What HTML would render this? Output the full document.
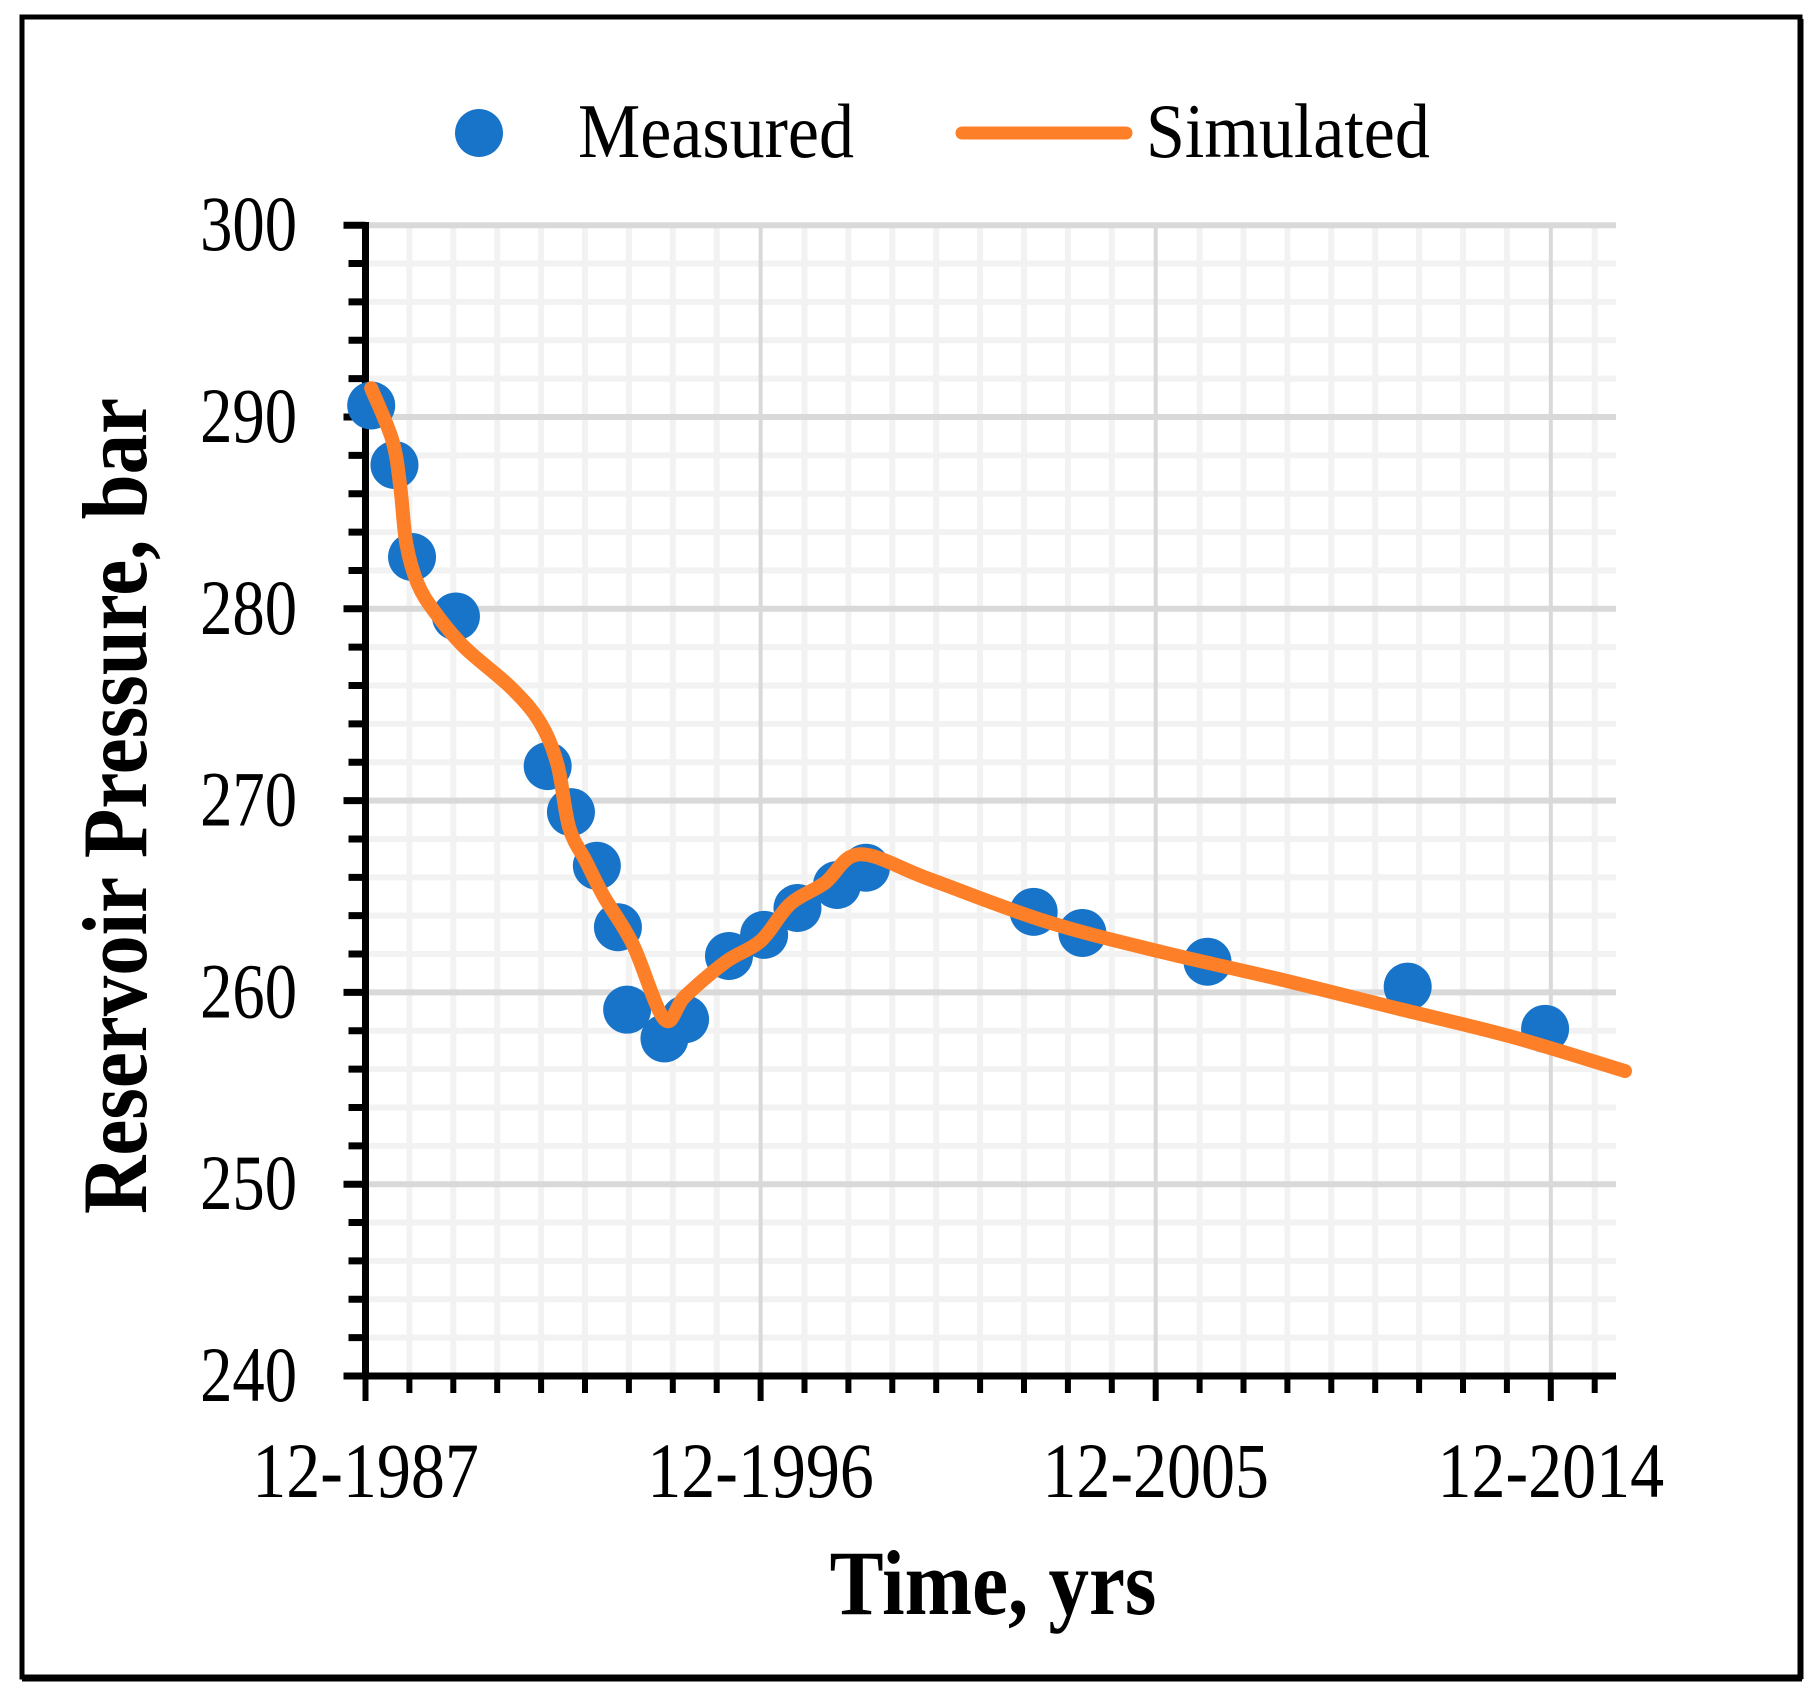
<!DOCTYPE html>
<html><head><meta charset="utf-8"><style>
body{margin:0;background:#fff;}
svg{display:block;font-family:"Liberation Serif",serif;}
</style></head><body>
<svg id="chart" width="1818" height="1695" viewBox="0 0 1818 1695">
<rect x="22" y="17" width="1778" height="1660" fill="#fff" stroke="#000" stroke-width="5"/>
<line x1="22" y1="1679" x2="1802" y2="1679" stroke="#000" stroke-width="5"/>
<line x1="1802" y1="19" x2="1802" y2="1679" stroke="#000" stroke-width="3"/>
<g id="grid"></g>
<g id="axes"></g>
<g id="series"></g>
<g>
  <circle cx="479" cy="133" r="24" fill="#1874c8"/>
  <text transform="translate(578,157) scale(1.0,1.1)" font-size="70">Measured</text>
  <line x1="962" y1="133" x2="1126" y2="133" stroke="#fd7f28" stroke-width="13" stroke-linecap="round"/>
  <text transform="translate(1146,157) scale(1.0,1.1)" font-size="70">Simulated</text>
</g>
<text transform="translate(993,1614) scale(0.92,1.05)" font-size="88" font-weight="bold" text-anchor="middle">Time, yrs</text>
<text transform="translate(146,806) rotate(-90) scale(0.92,1.05)" font-size="88" font-weight="bold" text-anchor="middle">Reservoir Pressure, bar</text>
</svg>
<script>
const yTicks=[240,250,260,270,280,290,300];
const xTickYears=[1987.92,1996.92,2005.92,2014.92];
const xTickLabels=["12-1987","12-1996","12-2005","12-2014"];
const measuredYears=[1988.05,1988.58,1988.98,1989.98,1992.07,1992.6,1993.19,1993.67,1993.88,1994.73,1995.2,1996.2,1997.0,1997.76,1998.66,1999.32,2003.14,2004.25,2007.1,2011.66,2014.79];
const measuredPressure=[290.6,287.5,282.7,279.6,271.8,269.4,266.6,263.4,259.1,257.6,258.6,261.9,263.0,264.4,265.6,266.5,264.2,263.1,261.6,260.3,258.1];
const simYears=[1988.05,1988.53,1988.71,1988.85,1989.11,1989.51,1990.17,1991.23,1991.89,1992.29,1992.56,1992.95,1993.35,1994.01,1994.73,1995.2,1996.13,1996.93,1997.59,1998.38,1999.18,2000.77,2003.42,2006.07,2008.72,2011.36,2014.01,2016.61];
const simPressure=[291.5,288.8,286.4,283.4,281.3,279.8,278.0,275.9,274.1,271.9,268.6,266.8,265.0,262.5,258.6,259.8,261.6,262.7,264.6,265.7,267.2,265.9,263.7,262.1,260.7,259.2,257.7,255.9];

const NS="http://www.w3.org/2000/svg";
const X0=365.5,Y0=1376,PXY=43.9,PXB=19.18,XR=1616,YT=225;
function xs(yr){return X0+(yr-1987.92)*PXY;}
function ys(p){return Y0-(p-240)*PXB;}
function mk(tag,attrs,parent){const e=document.createElementNS(NS,tag);for(const k in attrs)e.setAttribute(k,attrs[k]);parent.appendChild(e);return e;}
const grid=document.getElementById('grid'),axes=document.getElementById('axes'),series=document.getElementById('series');
for(let v=242;v<300;v+=2){if(v%10===0)continue;const l=mk('line',{x1:X0,x2:XR,y1:ys(v),y2:ys(v),stroke:'#f2f2f2','stroke-width':6},grid);

}
for(let yr=1988.92;xs(yr)<XR;yr+=1){if(Math.abs((yr-1987.92)%9)<0.01)continue;const l=mk('line',{x1:xs(yr),x2:xs(yr),y1:YT,y2:Y0,stroke:'#f2f2f2','stroke-width':6},grid);

}
yTicks.forEach(v=>{if(v===240)return;const l=mk('line',{x1:X0,x2:XR,y1:ys(v),y2:ys(v),stroke:'#d9d9d9','stroke-width':6},grid);

});
xTickYears.forEach(yr=>{if(yr===1987.92)return;const l=mk('line',{x1:xs(yr),x2:xs(yr),y1:YT,y2:Y0,stroke:'#d9d9d9','stroke-width':4},grid);

});
const ya=mk('line',{x1:X0,x2:X0,y1:YT-3,y2:Y0+3,stroke:'#000','stroke-width':7},axes);


const xa=mk('line',{x1:X0-22,x2:XR,y1:Y0,y2:Y0,stroke:'#000','stroke-width':7},axes);


for(let v=240;v<=300;v+=2){const maj=v%10===0;const t=mk('line',{x1:maj?X0-22:X0-17,x2:X0,y1:ys(v),y2:ys(v),stroke:'#000','stroke-width':7},axes);

}
yTicks.forEach(v=>{const t=mk('text',{transform:`translate(297,${ys(v)+25}) scale(0.95,1.15)`,'font-size':68,'text-anchor':'end'},axes);t.textContent=v;

});
for(let yr=1987.92;xs(yr)<XR;yr+=1){const maj=xTickYears.some(m=>Math.abs(m-yr)<0.01);const t=mk('line',{x1:xs(yr),x2:xs(yr),y1:Y0,y2:maj?Y0+25:Y0+17,stroke:'#000','stroke-width':6},axes);

}
xTickYears.forEach((yr,i)=>{const t=mk('text',{transform:`translate(${xs(yr)},1497) scale(1,1.15)`,'font-size':68,'text-anchor':'middle'},axes);t.textContent=xTickLabels[i];

});
measuredYears.forEach((yr,i)=>{const c=mk('circle',{cx:xs(yr),cy:ys(measuredPressure[i]),r:24,fill:'#1874c8'},series);

});
const pts=simYears.map((yr,i)=>[xs(yr),ys(simPressure[i])]);
let d='M'+pts[0][0]+','+pts[0][1];
for(let i=1;i<pts.length;i++){const p0=pts[Math.max(0,i-2)],p1=pts[i-1],p2=pts[i],p3=pts[Math.min(pts.length-1,i+1)];
const c1x=p1[0]+(p2[0]-p0[0])/6,c1y=p1[1]+(p2[1]-p0[1])/6,c2x=p2[0]-(p3[0]-p1[0])/6,c2y=p2[1]-(p3[1]-p1[1])/6;
d+=` C${c1x},${c1y} ${c2x},${c2y} ${p2[0]},${p2[1]}`;}
const sl=mk('path',{d:d,fill:'none',stroke:'#fd7f28','stroke-width':14,'stroke-linecap':'round','stroke-linejoin':'round'},series);


</script>
</body></html>
